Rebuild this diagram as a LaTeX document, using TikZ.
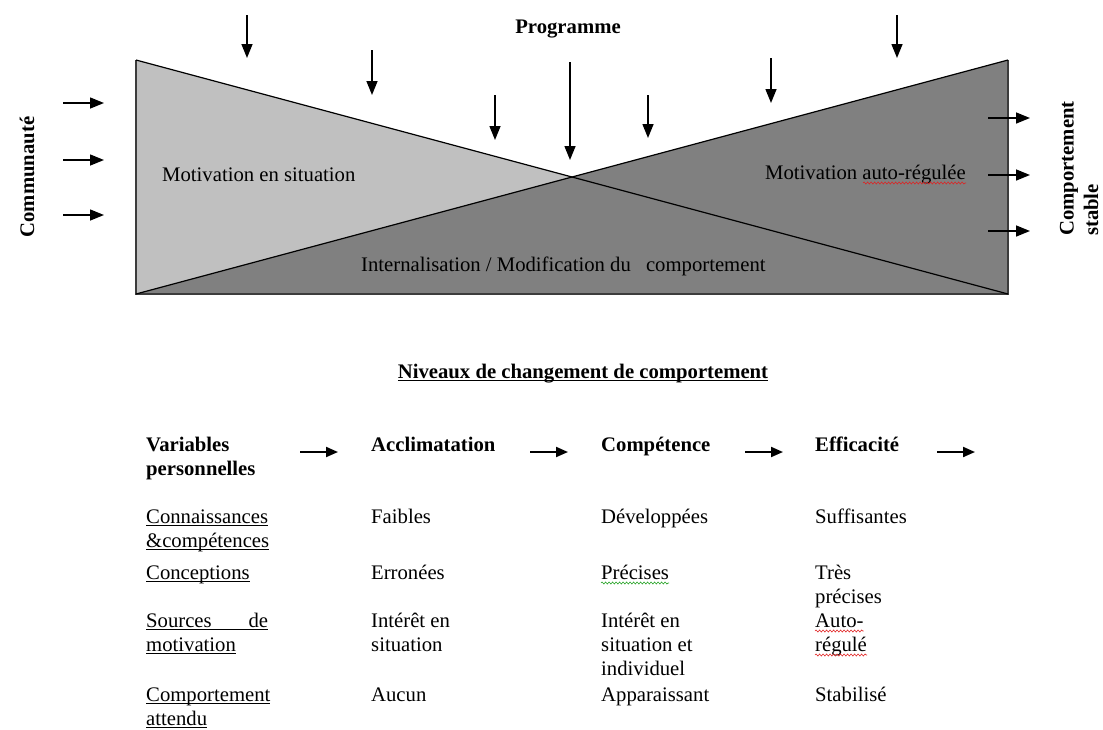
\documentclass[tikz,border=0pt]{standalone}
\usepackage{fontspec}
\setmainfont{Liberation Serif}
\usetikzlibrary{arrows.meta,decorations.pathmorphing}
\definecolor{lg}{HTML}{C0C0C0}
\definecolor{dg}{HTML}{808080}
\definecolor{edge}{HTML}{3C3C3C}
\definecolor{spellred}{HTML}{E02020}
\definecolor{spellgreen}{HTML}{20A020}
\newsavebox{\myulbox}
\newcommand{\myuline}[1]{\sbox{\myulbox}{#1}\rlap{\rule[-3pt]{\wd\myulbox}{1.1pt}}\usebox{\myulbox}}
\begin{document}
\begin{tikzpicture}[x=1pt,y=-1pt,
  txt/.style={font=\fontsize{20.7}{24.5}\selectfont, inner sep=0pt, anchor=base west},
  hd/.style={txt, font=\fontsize{20.7}{24.5}\selectfont\bfseries},
  bigarr/.style={line width=1.5pt, -{Triangle[width=11pt,length=14pt]}},
  tabarr/.style={line width=2pt, -{Triangle[width=10pt,length=12pt]}},
  wavy/.style={decorate, decoration={snake, amplitude=1pt, segment length=3.5pt}, line width=0.6pt},
]
\useasboundingbox (0,0) rectangle (1103,729);

% ---- corner coordinates of the diagram
\coordinate (tl) at (136,60);
\coordinate (bl) at (136,294);
\coordinate (tr) at (1008,60);
\coordinate (br) at (1008,294);
\coordinate (x) at (572,177);

\fill[lg] (tl) -- (x) -- (bl) -- cycle;
\fill[dg] (bl) -- (x) -- (tr) -- (br) -- cycle;
\draw[edge, line width=1.3pt] (tl) -- (bl) -- (br) -- (tr);
\draw[black, line width=1.2pt] (tl) -- (br);
\draw[black, line width=1.2pt] (bl) -- (tr);

% ---- top arrows (Programme)
\foreach \n/\xx/\ya/\yb in {1/247/15/58, 2/372/50/95, 3/495/95/140, 4/570/62/160, 5/648/95/138, 6/771/58/103, 7/897/15/58}{
  \coordinate (ts\n) at (\xx,\ya);
  \coordinate (te\n) at (\xx,\yb);
  \draw[bigarr] (ts\n) -- (te\n);
}
% ---- left arrows (Communaute)
\foreach \n/\yy in {1/103, 2/160, 3/215}{
  \coordinate (ls\n) at (63,\yy);
  \coordinate (le\n) at (104,\yy);
  \draw[bigarr] (ls\n) -- (le\n);
}
% ---- right arrows (Comportement stable)
\foreach \n/\yy in {1/118, 2/175, 3/231}{
  \coordinate (rs\n) at (988,\yy);
  \coordinate (re\n) at (1030,\yy);
  \draw[bigarr] (rs\n) -- (re\n);
}

% ---- labels of the diagram
\node[hd, anchor=base] (prog) at (568,33) {Programme};
\node[hd, anchor=center, rotate=90] (comm) at (27,177) {Communauté};
\node[hd, anchor=west, rotate=90] (comp1) at (1069,236) {Comportement};
\node[hd, anchor=west, rotate=90] (comp2) at (1091,236) {stable};

\node[txt] (mes) at (162,181) {Motivation en situation};
\node[txt] (mar) at (765,179) {Motivation auto-régulée};
\draw[spellred, wavy] ([xshift=-103pt,yshift=-4pt]mar.base east) -- ([yshift=-4pt]mar.base east);
\node[txt] (imc) at (361,271) {Internalisation / Modification du\hspace{10pt} comportement};

% ---- title of the table
\node[hd, anchor=base] (title) at (583,378) {\myuline{Niveaux de changement de comportement}};

% ---- table header
\node[hd] (h1a) at (146,451) {Variables};
\node[hd] (h1b) at (146,475) {personnelles};
\node[hd] (h2) at (371,451) {Acclimatation};
\node[hd] (h3) at (601,451) {Compétence};
\node[hd] (h4) at (815,451) {Efficacité};

\foreach \n/\xa/\xb in {1/300/338, 2/530/568, 3/745/783, 4/937/975}{
  \coordinate (as\n) at (\xa,452);
  \coordinate (ae\n) at (\xb,452);
  \draw[tabarr] (as\n) -- (ae\n);
}

% ---- row 1
\node[txt] (r1a) at (146,523) {\myuline{Connaissances}};
\node[txt] (r1b) at (146,547) {\myuline{\&compétences}};
\node[txt] (r1c) at (371,523) {Faibles};
\node[txt] (r1d) at (601,523) {Développées};
\node[txt] (r1e) at (815,523) {Suffisantes};

% ---- row 2
\node[txt] (r2a) at (146,579) {\myuline{Conceptions}};
\node[txt] (r2c) at (371,579) {Erronées};
\node[txt] (r2d) at (601,579) {Précises};
\draw[spellgreen, wavy] ([yshift=-4pt]r2d.base west) -- ([yshift=-4pt]r2d.base east);
\node[txt] (r2e) at (815,579) {Très};
\node[txt] (r2f) at (815,603) {précises};

% ---- row 3
\node[txt] (r3a) at (146,627) {\myuline{\makebox[122pt][s]{Sources de}}};
\node[txt] (r3b) at (146,651) {\myuline{motivation}};
\node[txt] (r3c) at (371,627) {Intérêt en};
\node[txt] (r3d) at (371,651) {situation};
\node[txt] (r3e) at (601,627) {Intérêt en};
\node[txt] (r3f) at (601,651) {situation et};
\node[txt] (r3g) at (601,675) {individuel};
\node[txt] (r3h) at (815,627) {Auto-};
\node[txt] (r3i) at (815,651) {régulé};
\draw[spellred, wavy] ([yshift=-4pt]r3h.base west) -- ([yshift=-4pt]r3h.base east);
\draw[spellred, wavy] ([yshift=-4pt]r3i.base west) -- ([yshift=-4pt]r3i.base east);

% ---- row 4
\node[txt] (r4a) at (146,701) {\myuline{Comportement}};
\node[txt] (r4b) at (146,725) {\myuline{attendu}};
\node[txt] (r4c) at (371,701) {Aucun};
\node[txt] (r4d) at (601,701) {Apparaissant};
\node[txt] (r4e) at (815,701) {Stabilisé};
\end{tikzpicture}
\end{document}
